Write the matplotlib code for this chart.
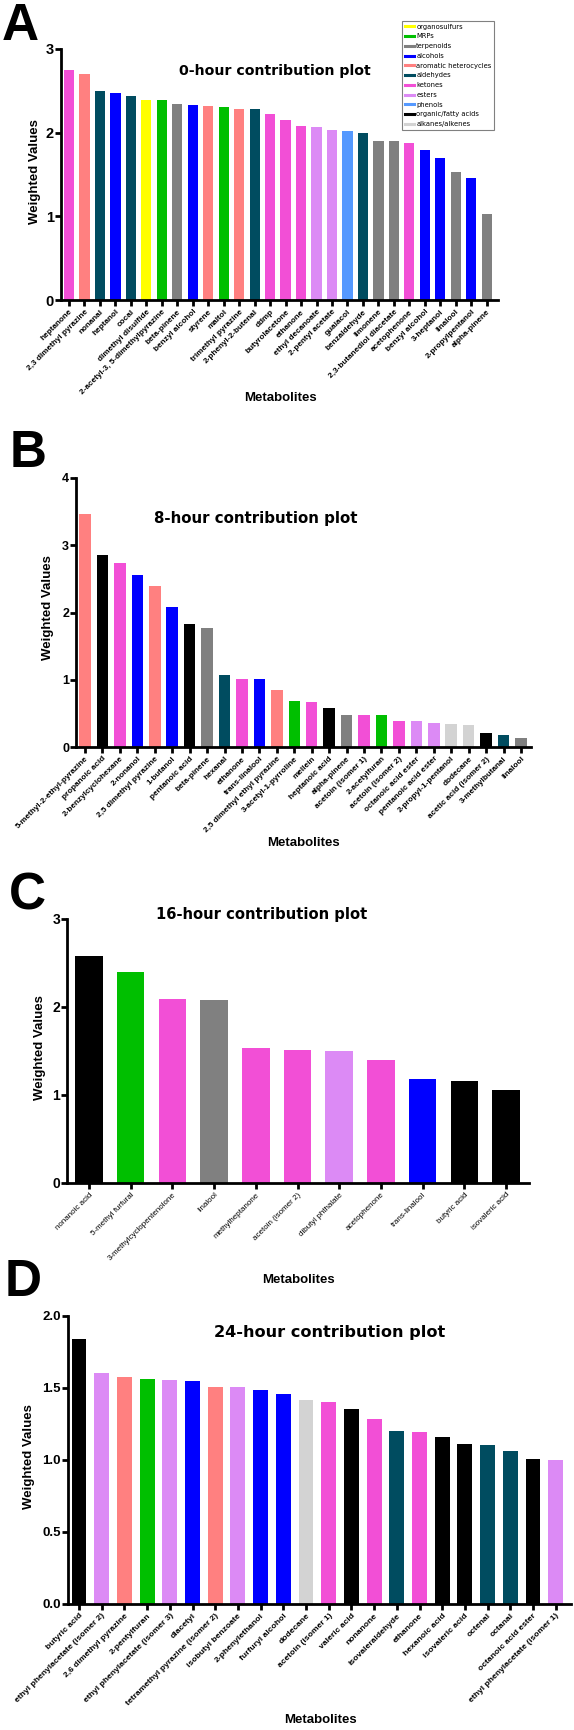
import matplotlib
matplotlib.use("Agg")
import matplotlib.pyplot as plt
from matplotlib.lines import Line2D

# ---------------- data ----------------
class_names = ["organosulfurs", "MRPs", "terpenoids", "alcohols", "aromatic heterocycles",
               "aldehydes", "ketones", "esters", "phenols", "organic/fatty acids", "alkanes/alkenes"]
class_colors = ["#FFFF00", "#00BF00", "#808080", "#0000FF", "#FF8080",
                "#004C60", "#F24FD6", "#DC8AF5", "#5599FF", "#000000", "#D3D3D3"]

a_names = ["heptanone", "2,3 dimethyl pyrazine", "nonanal", "heptanol", "cocal", "dimethyl disulfide",
           "2-acetyl-3, 5-dimethylpyrazine", "beta-pinene", "benzyl alcohol", "styrene", "maltol",
           "trimethyl pyrazine", "2-phenyl-2-butenal", "ddmp", "butyrolacetone", "ethanone",
           "ethyl decanoate", "2-pentyl acetate", "guaiacol", "benzaldehyde", "limonene",
           "2,3-butanediol diacetate", "acetophenone", "benzyl alcohol", "3-heptanol", "linalool",
           "2-propylpentanol", "alpha-pinene"]
a_values = [2.745, 2.705, 2.50, 2.477, 2.433, 2.393, 2.39, 2.337, 2.333, 2.313, 2.309, 2.281, 2.277,
            2.225, 2.149, 2.085, 2.069, 2.034, 2.014, 1.998, 1.906, 1.898, 1.882, 1.798, 1.698,
            1.526, 1.454, 1.027]
a_classes = ["ketones", "aromatic heterocycles", "aldehydes", "alcohols", "aldehydes", "organosulfurs",
             "MRPs", "terpenoids", "alcohols", "aromatic heterocycles", "MRPs", "aromatic heterocycles",
             "aldehydes", "ketones", "ketones", "ketones", "esters", "esters", "phenols", "aldehydes",
             "terpenoids", "terpenoids", "ketones", "alcohols", "alcohols", "terpenoids", "alcohols",
             "terpenoids"]

b_names = ["5-methyl-2-ethyl-pyrazine", "propanoic acid", "2-benzylcyclohexane", "2-nonanol",
           "2,5 dimethyl pyrazine", "1-butanol", "pentanoic acid", "beta-pinene", "hexanal", "ethanone",
           "trans-linalool", "2,5 dimethyl ethyl pyrazine", "3-acetyl-1-pyrroline", "mellein",
           "heptanoic acid", "alpha-pinene", "acetoin (isomer 1)", "2-acetylfuran", "acetoin (isomer 2)",
           "octanoic acid ester", "pentanoic acid ester", "2-propyl-1-pentanol", "dodecane",
           "acetic acid (isomer 2)", "3-methylbutanal", "linalool"]
b_values = [3.47, 2.857, 2.743, 2.56, 2.40, 2.083, 1.835, 1.766, 1.066, 1.017, 1.012, 0.853, 0.69,
            0.665, 0.575, 0.476, 0.471, 0.471, 0.387, 0.382, 0.357, 0.337, 0.322, 0.208, 0.174, 0.129]
b_classes = ["aromatic heterocycles", "organic/fatty acids", "ketones", "alcohols", "aromatic heterocycles",
             "alcohols", "organic/fatty acids", "terpenoids", "aldehydes", "ketones", "alcohols",
             "aromatic heterocycles", "MRPs", "ketones", "organic/fatty acids", "terpenoids", "ketones",
             "MRPs", "ketones", "esters", "esters", "alkanes/alkenes", "alkanes/alkenes",
             "organic/fatty acids", "aldehydes", "terpenoids"]

c_names = ["nonanoic acid", "5-methyl furfural", "3-methylcyclopentenolone", "linalool", "methylheptanone",
           "acetoin (isomer 2)", "dibutyl phthalate", "acetophenone", "trans-linalool", "butyric acid",
           "isovaleric acid"]
c_values = [2.58, 2.40, 2.09, 2.08, 1.53, 1.515, 1.50, 1.394, 1.178, 1.159, 1.057]
c_classes = ["organic/fatty acids", "MRPs", "ketones", "terpenoids", "ketones", "ketones", "esters",
             "ketones", "alcohols", "organic/fatty acids", "organic/fatty acids"]

d_names = ["butyric acid", "ethyl phenylacetate (isomer 2)", "2,6 dimethyl pyrazine", "2-pentylfuran",
           "ethyl phenylacetate (isomer 3)", "diacetyl", "tetramethyl pyrazine (isomer 2)",
           "isobutyl benzoate", "2-phenylethanol", "furfuryl alcohol", "dodecane", "acetoin (isomer 1)",
           "valeric acid", "nonanone", "isovaleraldehyde", "ethanone", "hexanoic acid", "isovaleric acid",
           "octenal", "octanal", "octanoic acid ester", "ethyl phenylacetate (isomer 1)"]
d_values = [1.838, 1.603, 1.573, 1.561, 1.554, 1.552, 1.510, 1.506, 1.483, 1.457, 1.416, 1.400,
            1.351, 1.286, 1.199, 1.196, 1.162, 1.111, 1.106, 1.060, 1.005, 1.002]
d_classes = ["organic/fatty acids", "esters", "aromatic heterocycles", "MRPs", "esters", "alcohols",
             "aromatic heterocycles", "esters", "alcohols", "alcohols", "alkanes/alkenes", "ketones",
             "organic/fatty acids", "ketones", "aldehydes", "ketones", "organic/fatty acids",
             "organic/fatty acids", "aldehydes", "aldehydes", "organic/fatty acids", "esters"]

a_yticks = [0, 1, 2, 3]
b_yticks = [0, 1, 2, 3, 4]
c_yticks = [0, 1, 2, 3]
d_yticks = [0.0, 0.5, 1.0, 1.5, 2.0]
d_yticklabels = ["0.0", "0.5", "1.0", "1.5", "2.0"]

# ---------------- figure ----------------
W, H, DPI = 574, 1730, 100
fig = plt.figure(figsize=(W / DPI, H / DPI), dpi=DPI)
color_of = dict(zip(class_names, class_colors))
ARIAL = "Liberation Sans"
VERD = "DejaVu Sans"


def fx(x):
    return x / W


def fy(y):
    return 1 - y / H


def panel(names, values, classes, left, right, top, bottom, first, spacing, ymax, yticks, yticklabels,
          tick_fs, label_fs, label_weight, title, title_xy, title_fs, letter, letter_xy,
          ylabel_xy, xlabel_xy):
    ax = fig.add_axes([fx(left), fy(bottom), (right - left) / W, (bottom - top) / H])
    n = len(values)
    ax.bar(range(n), values, width=0.66, color=[color_of[c] for c in classes], zorder=2)
    ax.set_xlim(-(first - left) / spacing, (right - first) / spacing)
    ax.set_ylim(0, ymax)
    for s in ["top", "right"]:
        ax.spines[s].set_visible(False)
    for s in ["left", "bottom"]:
        ax.spines[s].set_linewidth(2.0)
        ax.spines[s].set_zorder(3)
    ax.set_xticks(range(n))
    ax.set_xticklabels(names, rotation=45, ha="right", va="top", rotation_mode="anchor",
                       fontsize=label_fs, fontweight=label_weight, family=ARIAL)
    ax.set_yticks(yticks)
    ax.set_yticklabels(yticklabels, fontsize=tick_fs, fontweight="bold", family=ARIAL)
    ax.tick_params(axis="both", direction="out", length=4, width=2.0, pad=2)
    ax.tick_params(axis="y", pad=1)
    fig.text(fx(title_xy[0]), fy(title_xy[1]), title, ha="center", va="center",
             fontsize=title_fs, fontweight="bold", family=VERD)
    fig.text(fx(letter_xy[0]), fy(letter_xy[1]), letter, ha="left", va="baseline",
             fontsize=37, fontweight="bold", family=ARIAL)
    fig.text(fx(ylabel_xy[0]), fy(ylabel_xy[1]), "Weighted Values", ha="center", va="center",
             rotation=90, fontsize=9.5, fontweight="bold", family=ARIAL)
    fig.text(fx(xlabel_xy[0]), fy(xlabel_xy[1]), "Metabolites", ha="center", va="center",
             fontsize=9.5, fontweight="bold", family=ARIAL)
    return ax


axA = panel(a_names, a_values, a_classes, 61, 498, 49, 300, 69, 15.47, 3, a_yticks,
            [str(t) for t in a_yticks], 10.5, 5.9, "bold", "0-hour contribution plot", (275, 71), 10.2,
            "A", (2, 40), (35, 172), (280, 398))
axB = panel(b_names, b_values, b_classes, 76, 531, 478, 747, 85, 17.44, 4, b_yticks,
            [str(t) for t in b_yticks], 9, 5.9, "bold", "8-hour contribution plot", (256, 518), 10.8,
            "B", (10, 467), (48, 608), (303, 843))
axC = panel(c_names, c_values, c_classes, 67, 529, 919, 1183, 89, 41.7, 3, c_yticks,
            [str(t) for t in c_yticks], 10, 5.8, "normal", "16-hour contribution plot", (262, 914), 10.6,
            "C", (9, 909), (40, 1048), (298, 1280))
axD = panel(d_names, d_values, d_classes, 68, 571, 1316, 1604, 79, 22.7, 2.0, d_yticks,
            d_yticklabels, 9.5, 6.1, "bold", "24-hour contribution plot", (330, 1333), 11.6,
            "D", (5, 1296), (29, 1457), (320, 1720))

handles = [Line2D([0], [0], color=c, lw=2.2) for c in class_colors]
leg = fig.legend(handles, class_names, loc="upper left",
                 bbox_to_anchor=(fx(402), fy(21)), bbox_transform=fig.transFigure,
                 prop={"family": VERD, "size": 4.9}, handlelength=1.3, handletextpad=0.4,
                 labelspacing=0.55, borderpad=0.4, borderaxespad=0, fancybox=False,
                 framealpha=1, edgecolor="#808080")
leg.get_frame().set_linewidth(0.8)

fig.savefig("out.png", dpi=DPI)
